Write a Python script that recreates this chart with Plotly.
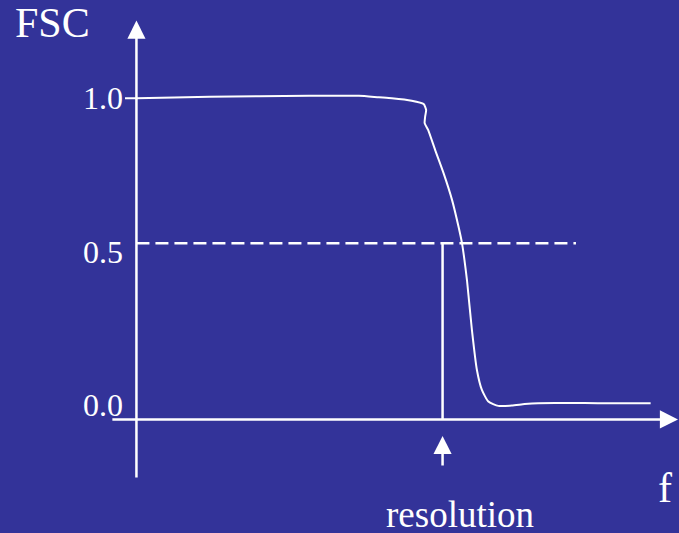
import plotly.graph_objects as go

BG = "#333399"
FG = "white"
SERIF = "Liberation Serif, Times New Roman, serif"

# FSC curve (f in arbitrary units)
freq = [-0.023, 0.0, 0.147, 0.347, 0.447, 0.487, 0.513, 0.553, 0.577, 0.582,
        0.580, 0.579, 0.586, 0.600, 0.617, 0.634, 0.647, 0.654, 0.659, 0.664,
        0.674, 0.684, 0.694, 0.707, 0.727, 0.754, 0.780, 0.807, 0.927, 1.033]
fsc = [0.999, 0.999, 1.004, 1.007, 1.007, 1.002, 0.999, 0.991, 0.980, 0.961,
       0.939, 0.918, 0.896, 0.831, 0.755, 0.668, 0.581, 0.527, 0.472, 0.407,
       0.244, 0.114, 0.049, 0.011, -0.003, -0.002, 0.003, 0.006, 0.006, 0.006]

tick_vals = [0.0, 0.5, 1.0]
tick_text = ["0.0", "0.5", "1.0"]

half_level = 0.527      # dashed line, drawn a bit above the 0.5 tick
half_end = 0.883
resolution_f = 0.615
axis_y = -0.047         # where the f axis is drawn
y_axis_bottom = -0.241
y_axis_top = 1.252
res_arrow_tail = -0.202
res_arrow_tip = -0.101
# f axis runs off the right edge, so it is placed in paper units
x_axis_tip_paper = 1.025
x_axis_len_px = 582

ARROW = dict(showarrow=True, arrowhead=2, arrowsize=1.45, arrowwidth=2.5, arrowcolor=FG)

fig = go.Figure()
fig.add_trace(go.Scatter(
    x=freq, y=fsc, mode="lines",
    line=dict(color=FG, width=2, shape="spline", smoothing=0.5),
    hoverinfo="skip",
))
fig.add_trace(go.Scatter(
    x=[0, half_end], y=[half_level, half_level], mode="lines",
    line=dict(color=FG, width=2.5, dash="13px,6px"),
    hoverinfo="skip",
))
fig.add_trace(go.Scatter(
    x=[resolution_f, resolution_f], y=[half_level, axis_y], mode="lines",
    line=dict(color=FG, width=2.5),
    hoverinfo="skip",
))


def arrow(x0, y0, x1, y1):
    fig.add_annotation(
        x=x1, y=y1, ax=x0, ay=y0, xref="x", yref="y", axref="x", ayref="y",
        text="", **ARROW,
    )


def label(text, x, y, size):
    fig.add_annotation(
        x=x, y=y, xref="paper", yref="paper", text=text, showarrow=False,
        xanchor="center", yanchor="middle",
        font=dict(family=SERIF, size=size, color=FG),
    )


arrow(0, y_axis_bottom, 0, y_axis_top)
arrow(resolution_f, res_arrow_tail, resolution_f, res_arrow_tip)
fig.add_annotation(
    x=x_axis_tip_paper, y=axis_y, xref="paper", yref="y",
    ax=-x_axis_len_px, ay=0, axref="pixel", ayref="pixel",
    text="", **ARROW,
)

label("FSC", -0.1288, 0.956, 42)
label("f", 0.975, 0.0844, 42)
label("resolution", 0.606, 0.0345, 37)

fig.update_layout(
    width=679, height=533,
    margin=dict(l=124, r=0, t=0, b=0),
    paper_bgcolor=BG, plot_bgcolor=BG,
    showlegend=False,
    xaxis=dict(range=[-0.025, 1.09], visible=False),
    yaxis=dict(
        range=[-0.417, 1.319], showgrid=False, zeroline=False, showline=False,
        tickvals=tick_vals, ticktext=tick_text,
        tickfont=dict(family=SERIF, size=32, color=FG),
    ),
)

fig.write_html(
    "out.html",
    config={"displayModeBar": False},
    post_script="document.body.style.margin='0';document.body.style.overflow='hidden';",
)
